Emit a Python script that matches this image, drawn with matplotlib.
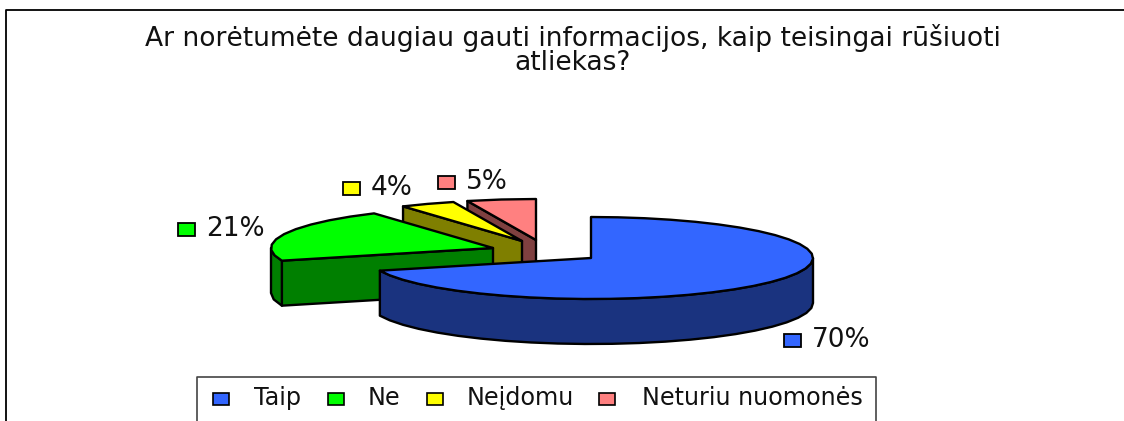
import numpy as np
import matplotlib
matplotlib.use('agg')
import matplotlib.pyplot as plt
from matplotlib.patches import Polygon, Rectangle

title = "Ar norėtumėte daugiau gauti informacijos, kaip teisingai rūšiuoti\natliekas?"
categories = ["Taip", "Ne", "Neįdomu", "Neturiu nuomonės"]
values = [70, 21, 4, 5]

face_colors = ["#3366FF", "#00FF00", "#FFFF00", "#FF8080"]
side_colors = ["#1A337F", "#007F00", "#7F7F00", "#7F4040"]

# layout is in pixels of the 1124x421 picture
centers = [(591, 258), (493, 248), (522, 241), (536, 240)]
label_xy = [(784, 340), (178, 229), (343, 188), (438, 182)]
legend_marker_x = [221, 336, 435, 607]
legend_text_x = [254, 368, 467, 642]
rx, ry, depth = 222, 41, 45
edge = 1.7

# the original text is wide, DejaVu gets closest to it
plt.rcParams['font.family'] = ['DejaVu Sans']

fig = plt.figure(figsize=(11.24, 4.21), dpi=100)
ax = fig.add_axes([0, 0, 1, 1])
ax.set_xlim(0, 1124)
ax.set_ylim(421, 0)
ax.axis('off')


def rim(center, a0, a1):
    # angles in degrees, clockwise from the top of the pie
    steps = max(2, int((a1 - a0) / 7) + 1)
    a = np.radians(np.linspace(a0, a1, steps))
    return np.column_stack([center[0] + rx * np.sin(a), center[1] - ry * np.cos(a)])


def draw_slice(center, a0, a1, face, side):
    c = np.array(center, dtype=float)
    drop = np.array([0, depth])
    # flat wall on the cut that looks to the viewer
    start = rim(center, a0, a0)[0]
    if a0 > 180:
        wall = np.array([start, c, c + drop, start + drop])
        ax.add_patch(Polygon(wall, fc=side, ec='black', lw=edge, joinstyle='round'))
    # outer wall, only the front half of the rim
    lo, hi = max(a0, 90), min(a1, 270)
    if lo < hi:
        arc = rim(center, lo, hi)
        wall = np.vstack([arc, arc[::-1] + drop])
        ax.add_patch(Polygon(wall, fc=side, ec='black', lw=edge, joinstyle='round'))
    top = np.vstack([c, rim(center, a0, a1)])
    ax.add_patch(Polygon(top, fc=face, ec='black', lw=edge, joinstyle='round'))


angles = np.cumsum([0] + values) * 3.6
for i in [3, 2, 1, 0]:
    draw_slice(centers[i], angles[i], angles[i + 1], face_colors[i], side_colors[i])

for i, v in enumerate(values):
    x, y = label_xy[i]
    ax.add_patch(Rectangle((x, y - 6.5), 17, 13, fc=face_colors[i], ec='black', lw=1.3))
    ax.text(x + 28, y, f"{v}%", fontsize=19, ha='left', va='center', color='#111111')

ax.text(573, 50, title, fontsize=19.1, ha='center', va='center', color='#111111', linespacing=0.88)

# outer frame, cut by the bottom and right of the picture
ax.plot([5.5, 5.5, 1124], [421, 9.5, 9.5], color='black', lw=1.3, clip_on=False)
ax.plot([197, 197, 876, 876], [421, 377, 377, 421], color='#444444', lw=1.2, clip_on=False)

for i, name in enumerate(categories):
    ax.add_patch(Rectangle((legend_marker_x[i] - 8, 393), 16, 12, fc=face_colors[i], ec='black', lw=1.2))
    ax.text(legend_text_x[i], 398, name, fontsize=17.2, ha='left', va='center', color='#111111')

fig.savefig('out.png', dpi=100)
